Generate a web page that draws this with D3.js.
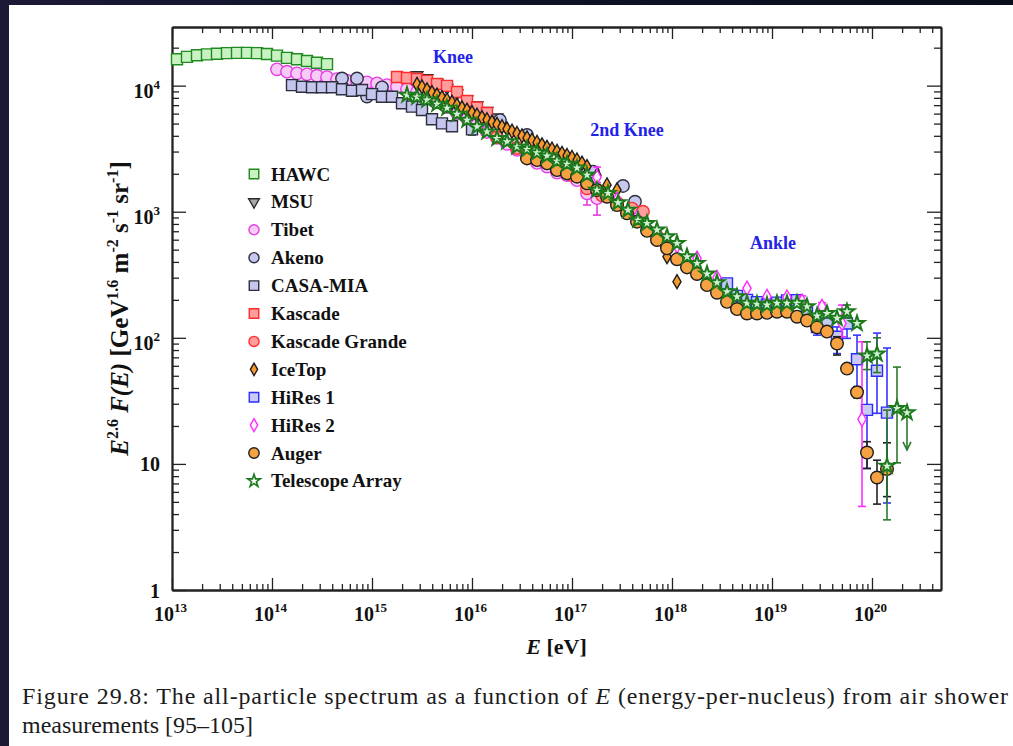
<!DOCTYPE html>
<html><head><meta charset="utf-8">
<script src="https://cdn.jsdelivr.net/npm/d3@7"></script>
<style>
html,body{margin:0;padding:0;}
body{width:1013px;height:746px;overflow:hidden;background:linear-gradient(90deg,#1c1936 0%,#0e1328 45%,#0a0e1a 100%);}
svg{display:block;}
</style></head><body>
<svg id="c" width="1013" height="746"></svg>
<script>
// ---------------- DATA (log10 E [eV], F in GeV^1.6 m^-2 s^-1 sr^-1) ----------------
const seriesNames = ["HAWC","MSU","Tibet","Akeno","CASA-MIA","Kascade","Kascade Grande","IceTop","HiRes 1","HiRes 2","Auger","Telescope Array"];

const hawcLogE = [13.05,13.15,13.25,13.35,13.45,13.55,13.65,13.75,13.85,13.95,14.05,14.15,14.25,14.35,14.45,14.55];
const hawcF    = [16200,16900,17400,17700,17900,18100,18200,18200,18100,17800,17300,16600,16200,15700,15200,14800];

const msuLogE = [15.35,15.45,15.55,15.65,15.75,15.85,15.95,16.05,16.15,16.25];
const msuF    = [11800,12100,11500,10500,9600,8700,7800,7000,6300,5600];

const tibetLogE = [14.05,14.15,14.25,14.35,14.45,14.55,14.65,14.75,14.85,14.95,15.05,15.15,15.25,15.35,15.45,15.55,15.65,15.75,15.85,15.95,16.05,16.15,16.25,16.35,16.45,16.55,16.65,16.75,16.85,16.95,17.05,17.15,17.25];
const tibetF    = [13460,12890,12530,12300,11990,11700,11280,10970,10740,10620,10420,10110,9800,9400,8900,8270,7550,6770,6060,5450,4880,4290,3850,3450,3090,2720,2440,2280,2040,1950,1780,1400,1280];
const tibetErr  = [[17.15,1630,1130],[17.25,1700,940]];

const akenoLogE = [14.70,14.85,14.95,15.10,16.28,16.55,17.08,17.21,17.51,17.63];
const akenoF    = [11400,11400,8200,9700,5330,4060,2280,2080,1600,1200];

const casaLogE = [14.2,14.3,14.4,14.5,14.6,14.7,14.8,14.9,15.0,15.1,15.2,15.3,15.4,15.5,15.6,15.7,15.8,16.0];
const casaF    = [10100,9800,9700,9700,9700,9350,9120,9230,8570,8160,8160,7240,6810,6410,5410,5020,4760,4500];
const casaErr  = [[16.0,4960,4060]];

const kascadeLogE = [15.25,15.35,15.45,15.55,15.65,15.75,15.85,15.95,16.05,16.15];
const kascadeF    = [11700,11500,11300,10900,10300,9950,8900,7550,6700,6070];

const kgLogE = [16.25,16.45,16.65,16.85,17.0,17.15,17.3,17.45,17.6,17.71,17.85,17.95];
const kgF    = [3900,3200,2700,2300,1950,1535,1350,1180,1060,1000,640,528];

const icetopLogE = [15.45,15.50,15.55,15.60,15.65,15.70,15.75,15.80,15.85,15.90,15.95,16.00,16.05,16.10,16.15,16.20,16.25,16.30,16.35,16.40,16.45,16.50,16.55,16.60,16.65,16.70,16.75,16.80,16.85,16.90,16.95,17.00,17.05,17.10,17.15,17.25,17.35,17.45,17.95,18.05];
const icetopF    = [10230,9770,9250,8810,8410,8040,7690,7350,7000,6670,6380,6110,5820,5580,5360,5140,4930,4730,4530,4350,4170,4000,3850,3690,3540,3390,3240,3130,3010,2900,2790,2690,2570,2430,2280,1950,1630,1490,440,279];

const hires1LogE = [18.55,18.65,18.75,18.85,18.95,19.05,19.15,19.25,19.35,19.45,19.55,19.65,19.75,19.85,19.95,20.05,20.15];
const hires1F    = [270,215,200,192,182,190,198,199,158,122,130,102,130,67.6,26.8,54.8,25.5];
const hires1Err  = [[19.45,140,105],[19.65,122,75],[19.75,138,99],[19.85,105,41],[19.95,71,9.2],[20.05,109,25.2],[20.15,83,4.9]];

const hires2LogE = [17.25,17.45,17.65,17.85,18.05,18.25,18.45,18.75,18.95,19.15,19.30,19.50,19.70,19.90];
const hires2F    = [1880,1250,900,680,535,427,300,247,212,210,195,177,130,22.6];
const hires2Err  = [[17.25,2260,1570],[19.30,215,178],[19.50,190,165],[19.70,182,102],[19.90,93,4.6]];

const augerLogE = [16.55,16.65,16.75,16.85,16.95,17.05,17.15,17.25,17.35,17.45,17.55,17.65,17.75,17.85,17.95,18.05,18.15,18.25,18.35,18.45,18.55,18.65,18.75,18.85,18.95,19.05,19.15,19.25,19.35,19.45,19.55,19.65,19.75,19.85,19.95,20.05,20.15];
const augerF    = [2649,2570,2421,2138,2014,1897,1679,1486,1315,1130,971,834,706,597,513,420,362,321,262,228,193,169,156,156,158,161,161,147,137,121,112,90,57,37,12.3,7.8,9.1];
const augerErr  = [[19.65,102,73],[19.85,40,33.5],[19.95,15,9.2],[20.05,10.7,4.8],[20.15,14.7,5.5]];

const taLogE = [15.35,15.45,15.55,15.65,15.75,15.85,15.95,16.05,16.15,16.25,16.35,16.45,16.55,16.65,16.75,16.85,16.95,17.05,17.15,17.25,17.36,17.46,17.56,17.66,17.75,17.85,17.95,18.05,18.15,18.25,18.35,18.45,18.55,18.65,18.75,18.85,18.95,19.05,19.15,19.25,19.35,19.45,19.55,19.65,19.75,19.85,19.95,20.05,20.15,20.25];
const taF    = [8414,8128,7691,7145,6637,5943,5333,4721,4305,3819,3589,3273,3126,2938,2767,2523,2388,2223,1954,1486,1400,1178,1030,859,809,716,634,561,440,390,321,274,232,212,188,185,182,188,188,188,177,149,156,143,161,130,71.8,74.5,9.6,27.6];
const taErr  = [[19.75,182,143],[19.95,93,56],[20.05,100,53],[20.15,26.7,3.6],[20.25,58.6,10.2]];
const taUpperLimit = [[20.35,25.5,12.9]]; // [log10E, F, arrow end]

const xMajorExp = [13,14,15,16,17,18,19,20];
const yMajorVals = [1,10,100,1000,10000];
const annotations = [["Knee",15.81,63],["2nd Knee",17.55,136],["Ankle",19.01,249]]; // label, log10E, pixel baseline

// ---------------- LAYOUT ----------------
const M = {left:172, right:941, top:27, bottom:590};
const svg = d3.select('#c');
const FONT = "'Liberation Serif','Times New Roman',serif";

svg.append('rect').attr('x',9).attr('y',5).attr('width',1013-9).attr('height',746-5).attr('fill','#ffffff');

const x = d3.scaleLog().domain([1e13, Math.pow(10,20.69)]).range([M.left, M.right]);
const y = d3.scaleLog().domain([1, Math.pow(10,4.465)]).range([M.bottom, M.top]);
const X = le => x(Math.pow(10, le));

const isPow = v => Math.abs(Math.log10(v) - Math.round(Math.log10(v))) < 1e-6;
const xMinor = x.ticks().filter(v => !isPow(v));
const yMinor = y.ticks().filter(v => !isPow(v));
const xMajor = xMajorExp.map(e => Math.pow(10, e));

function styleAxis(g){
  g.select('.domain').attr('stroke','#222').attr('stroke-width',1.8);
  g.selectAll('.tick line').attr('stroke','#222').attr('stroke-width',1.3);
}
function ax(gen, tr, vals, size){
  const g = svg.append('g').attr('transform', tr)
    .call(gen.tickValues(vals).tickSizeInner(size).tickSizeOuter(0).tickFormat(''));
  styleAxis(g); return g;
}
// minor ticks all sides
ax(d3.axisBottom(x), `translate(0,${M.bottom})`, xMinor, -6);
ax(d3.axisTop(x), `translate(0,${M.top})`, xMinor, -6);
ax(d3.axisLeft(y), `translate(${M.left},0)`, yMinor, -7);
ax(d3.axisRight(y), `translate(${M.right},0)`, yMinor, -7);
ax(d3.axisTop(x), `translate(0,${M.top})`, xMajor, -12);
ax(d3.axisRight(y), `translate(${M.right},0)`, yMajorVals, -14);

// labelled major axes
const gxb = svg.append('g').attr('transform',`translate(0,${M.bottom})`)
  .call(d3.axisBottom(x).tickValues(xMajor).tickSizeInner(-12).tickSizeOuter(0).tickFormat(d => String(Math.round(Math.log10(d)))));
styleAxis(gxb);
gxb.selectAll('.tick text').each(function(d){
  const e = Math.round(Math.log10(d));
  const t = d3.select(this);
  t.text(null).attr('y',31).attr('dy',null).attr('dx',-2).attr('fill','#111')
   .attr('font-family',FONT).attr('font-weight','bold').attr('font-size',20).attr('text-anchor','middle');
  t.append('tspan').text('10');
  t.append('tspan').attr('dy',-9).attr('font-size',13).text(e);
});

const gyl = svg.append('g').attr('transform',`translate(${M.left},0)`)
  .call(d3.axisLeft(y).tickValues(yMajorVals).tickSizeInner(-14).tickSizeOuter(0).tickFormat(d => String(d)));
styleAxis(gyl);
gyl.selectAll('.tick text').each(function(d){
  const e = Math.round(Math.log10(d));
  const t = d3.select(this);
  t.text(null).attr('x',-12).attr('dy',null).attr('fill','#111')
   .attr('font-family',FONT).attr('font-weight','bold').attr('font-size',20).attr('text-anchor','end');
  if (e <= 1){ t.attr('y',7); t.append('tspan').text(e===0?'1':'10'); }
  else { t.attr('y',12); t.append('tspan').text('10'); t.append('tspan').attr('dy',-9).attr('font-size',13).text(e); }
});

// ---------------- AXIS TITLES ----------------
const xt = svg.append('text').attr('x',(M.left+M.right)/2).attr('y',654).attr('text-anchor','middle')
  .attr('font-family',FONT).attr('font-weight','bold').attr('font-size',22).attr('fill','#111');
xt.append('tspan').attr('font-style','italic').text('E');
xt.append('tspan').text(' [eV]');

const yt = svg.append('text').attr('transform',`translate(128,${(M.top+M.bottom)/2}) rotate(-90)`).attr('text-anchor','middle')
  .attr('font-family',FONT).attr('font-weight','bold').attr('font-size',25).attr('fill','#111');
const parts = [['E','i',0],['2.6','s'],[' ','n'],['F(E)','i'],[' [GeV','n'],['1.6','s'],[' m','n'],['-2','s'],[' s','n'],['-1','s'],[' sr','n'],['-1','s'],[']','n']];
let raised = false;
parts.forEach(p => {
  const ts = yt.append('tspan').text(p[0]);
  if (p[1]==='i') ts.attr('font-style','italic');
  if (p[1]==='s'){ ts.attr('dy',-10).attr('font-size',16); raised = true; }
  else if (raised){ ts.attr('dy',10); raised = false; }
});

// ---------------- SERIES ----------------
const series = [
  {name:"HAWC", le:hawcLogE, f:hawcF, shape:d3.symbolSquare, size:121, lsize:90, fill:'#c8f2c2', stroke:'#1f8a1f'},
  {name:"MSU", le:msuLogE, f:msuF, shape:d3.symbolTriangle, size:60, lsize:50, rot:180, fill:'#a9a9a9', stroke:'#2a2a2a'},
  {name:"Tibet", le:tibetLogE, f:tibetF, shape:d3.symbolCircle, size:121, lsize:80, fill:'#f7caf7', stroke:'#e23ee2', err:tibetErr},
  {name:"Akeno", le:akenoLogE, f:akenoF, shape:d3.symbolCircle, size:121, lsize:80, fill:'#c6c8ee', stroke:'#2e2e3e'},
  {name:"CASA-MIA", le:casaLogE, f:casaF, shape:d3.symbolSquare, size:121, lsize:90, fill:'#c4c6ee', stroke:'#2e2e3e', err:casaErr},
  {name:"Kascade", le:kascadeLogE, f:kascadeF, shape:d3.symbolSquare, size:121, lsize:90, fill:'#ff9c9c', stroke:'#ff2a2a'},
  {name:"Kascade Grande", le:kgLogE, f:kgF, shape:d3.symbolCircle, size:121, lsize:80, fill:'#ff9c9c', stroke:'#ff3030'},
  {name:"IceTop", le:icetopLogE, f:icetopF, shape:d3.symbolDiamond, size:57, lsize:45, fill:'#f79a2e', stroke:'#1e1e1e'},
  {name:"HiRes 1", le:hires1LogE, f:hires1F, shape:d3.symbolSquare, size:121, lsize:90, fill:'#c9c9f5', stroke:'#2b2bff', err:hires1Err},
  {name:"HiRes 2", le:hires2LogE, f:hires2F, shape:d3.symbolDiamond, size:60, lsize:48, fill:'#fff2ff', stroke:'#ff2cff', err:hires2Err},
  {name:"Auger", le:augerLogE, f:augerF, shape:d3.symbolCircle, size:125, lsize:85, fill:'#f7a242', stroke:'#1e1e1e', err:augerErr},
  {name:"Telescope Array", le:taLogE, f:taF, shape:d3.symbolStar, size:68, lsize:50, fill:'#d4f0d4', stroke:'#1c7a1c', sw:2, err:taErr},
];
const errColor = {"Tibet":'#e23ee2',"CASA-MIA":'#333',"HiRes 1":'#3535ff',"HiRes 2":'#ff2cff',"Auger":'#222',"Telescope Array":'#2a7a2a'};

const plot = svg.append('g');
series.forEach(s => {
  const g = plot.append('g');
  if (s.err){
    s.err.forEach(e => {
      const cx = X(e[0]);
      const c = errColor[s.name];
      g.append('line').attr('x1',cx).attr('x2',cx).attr('y1',y(e[1])).attr('y2',y(e[2])).attr('stroke',c).attr('stroke-width',1.6);
      [e[1],e[2]].forEach(v => g.append('line').attr('x1',cx-4).attr('x2',cx+4).attr('y1',y(v)).attr('y2',y(v)).attr('stroke',c).attr('stroke-width',1.6));
    });
  }
  if (s.name === "Telescope Array"){
    taUpperLimit.forEach(u => {
      const cx = X(u[0]), y0 = y(u[1]), y1 = y(u[2]);
      g.append('line').attr('x1',cx).attr('x2',cx).attr('y1',y0).attr('y2',y1).attr('stroke','#2a7a2a').attr('stroke-width',1.6);
      g.append('path').attr('d',`M${cx-4},${y1-8}L${cx},${y1}L${cx+4},${y1-8}`).attr('fill','none').attr('stroke','#2a7a2a').attr('stroke-width',1.6);
    });
  }
  const sym = d3.symbol().type(s.shape).size(s.size);
  const pts = s.le.map((le,i) => [le, s.f[i]]);
  if (s.name === "Telescope Array") taUpperLimit.forEach(u => pts.push([u[0],u[1]]));
  g.selectAll('path.pt').data(pts).join('path').attr('class','pt')
    .attr('d', sym)
    .attr('transform', d => `translate(${X(d[0])},${y(d[1])})` + (s.rot ? ` rotate(${s.rot})` : ''))
    .attr('fill', s.fill).attr('stroke', s.stroke).attr('stroke-width', s.sw || 1.4);
});

// ---------------- ANNOTATIONS ----------------
annotations.forEach(a => {
  svg.append('text').attr('x', X(a[1])).attr('y', a[2]).attr('text-anchor','middle')
    .attr('font-family',FONT).attr('font-weight','bold').attr('font-size',18).attr('fill','#2323e8').text(a[0]);
});

// ---------------- LEGEND ----------------
const leg = svg.append('g');
series.forEach((s,i) => {
  const cy = 174 + i*27.9;
  const sym = d3.symbol().type(s.shape).size(s.lsize);
  leg.append('path').attr('d', sym()).attr('transform', `translate(254,${cy})` + (s.rot ? ' rotate(180)' : ''))
    .attr('fill', s.name==="Telescope Array" ? '#ffffff' : s.fill).attr('stroke', s.stroke).attr('stroke-width', s.name==="Telescope Array"?1.6:1.4);
  leg.append('text').attr('x',271).attr('y',cy+6.5).attr('font-family',FONT).attr('font-weight','bold')
    .attr('font-size',19).attr('fill','#111').text(s.name);
});

// ---------------- CAPTION ----------------
const CFONT = "'Liberation Serif','DejaVu Serif',serif";
const c1 = svg.append('text').attr('x',22).attr('y',704).attr('font-family',CFONT).attr('font-size',20).attr('fill','#1c1c1c');
c1.append('tspan').text('Figure 29.8:  The all-particle spectrum as a function of ');
c1.append('tspan').attr('font-style','italic').text('E');
c1.append('tspan').text(' (energy-per-nucleus) from air shower');
const c2 = svg.append('text').attr('x',22).attr('y',733).attr('font-family',CFONT).attr('font-size',20).attr('fill','#1c1c1c')
  .text('measurements [95–105]');
const w2 = c2.node().getComputedTextLength();
const fs = 20 * 231 / w2;
c1.attr('font-size', fs); c2.attr('font-size', fs);
c1.attr('textLength', 986).attr('lengthAdjust', 'spacing');
</script>
</body></html>
